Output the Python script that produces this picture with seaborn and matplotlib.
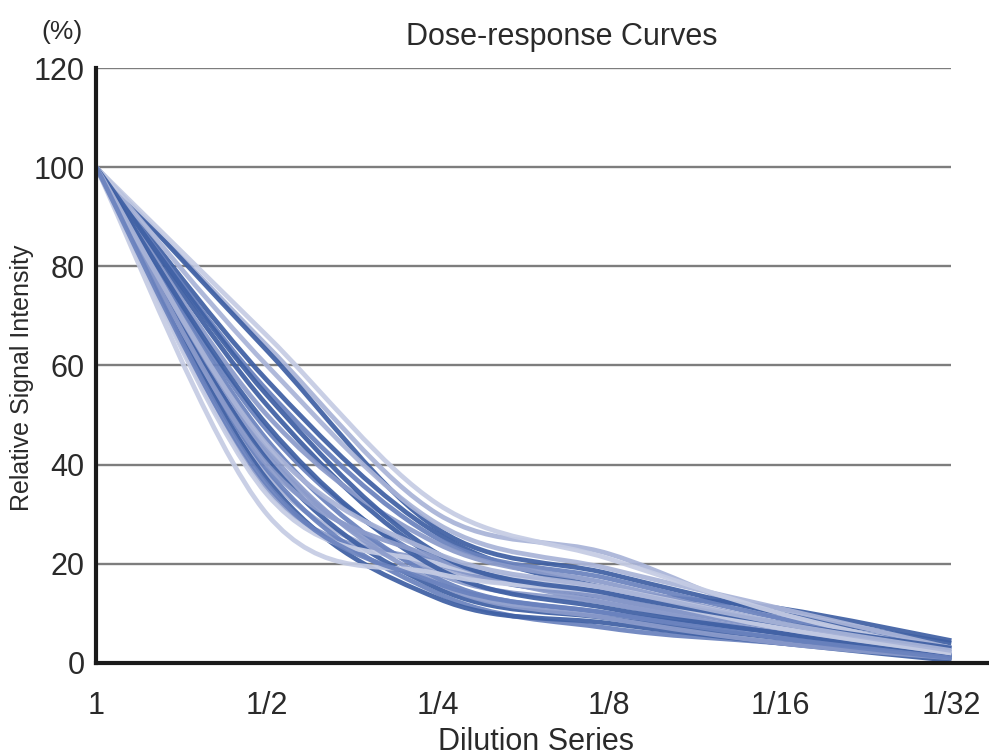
import matplotlib
matplotlib.use("Agg")
import matplotlib.pyplot as plt
from matplotlib.path import Path
from matplotlib.patches import PathPatch
import seaborn as sns
import pandas as pd

# ---- data -------------------------------------------------------------
dilution_labels = ["1", "1/2", "1/4", "1/8", "1/16", "1/32"]
y_ticks = [0, 20, 40, 60, 80, 100, 120]

# relative signal intensity (%) per curve at each dilution step
curve_values = [
    [100, 66, 32, 21, 10, 2],
    [100, 64, 30, 22, 9, 3],
    [100, 63, 27, 18, 10, 4],
    [100, 60, 28, 19, 11, 3],
    [100, 57, 26, 15, 11, 4.5],
    [100, 55, 25, 17, 9, 3],
    [100, 54, 22, 14, 8, 3],
    [100, 52, 21, 13, 7, 2],
    [100, 50, 24, 16, 8, 2],
    [100, 48, 19, 11, 6, 1.5],
    [100, 47, 20, 14, 7, 2],
    [100, 45, 17, 10, 6, 1],
    [100, 44, 22, 15, 8, 2.5],
    [100, 42, 18, 12, 6, 1.5],
    [100, 41, 15, 9, 5, 1],
    [100, 40, 21, 13, 7, 2],
    [100, 38, 19, 14, 7, 2],
    [100, 37, 13, 8, 4, 0.5],
    [100, 36, 16, 10, 5, 1],
    [100, 35, 20, 12, 6, 1.5],
    [100, 34, 20, 15, 8, 2],
    [100, 30, 18, 14, 7, 2],
    [100, 39, 14, 7, 4, 1],
    [100, 43, 16, 9, 4, 1],
]
# shade index per curve: 0 = darkest blue ... 4 = palest lavender
curve_shades = [4, 3, 0, 3, 0, 1, 0, 0, 2, 0, 1, 1, 3, 2, 0, 2, 3, 0, 1, 2, 4, 4, 1, 2]

# ---- styling ----------------------------------------------------------
sns.set_style("white")
plt.rcParams["font.family"] = ["Liberation Sans", "DejaVu Sans"]
text_color = "#2a2a2a"
palette = sns.blend_palette(["#3f60a4", "#6a82be", "#8b9bcb", "#a9b4d8", "#c5cce4"], 5)

rows = []
for ci, vals in enumerate(curve_values):
    for xi, v in enumerate(vals):
        rows.append({"curve": ci, "step": xi, "value": v})
df = pd.DataFrame(rows)

fig = plt.figure(figsize=(9.89, 7.55), dpi=100)
ax = fig.add_axes([0.097, 0.1219, 0.903, 0.788])


def smooth_path(xs, ys):
    """Excel-style smoothed line: cubic Bezier segments through the points."""
    pts = list(zip(xs, ys))
    n = len(pts)
    verts = [pts[0]]
    codes = [Path.MOVETO]
    for i in range(n - 1):
        p0 = pts[i - 1] if i > 0 else pts[i]
        p1 = pts[i]
        p2 = pts[i + 1]
        p3 = pts[i + 2] if i + 2 < n else pts[i + 1]
        c1 = (p1[0] + (p2[0] - p0[0]) / 6.0, p1[1] + (p2[1] - p0[1]) / 6.0)
        c2 = (p2[0] - (p3[0] - p1[0]) / 6.0, p2[1] - (p3[1] - p1[1]) / 6.0)
        verts += [c1, c2, p2]
        codes += [Path.CURVE4] * 3
    return Path(verts, codes)


# gridlines (span only the category range)
n_steps = len(dilution_labels)
ax.hlines(y_ticks[1:], 0, n_steps - 1, colors="#7d7d7d", linewidth=1.7, zorder=1)

zorders = [5, 2, 3, 4, 2, 3]
for ci, grp in df.groupby("curve"):
    shade = curve_shades[ci]
    path = smooth_path(grp["step"].to_numpy(float), grp["value"].to_numpy(float))
    patch = PathPatch(path, facecolor="none", edgecolor=palette[shade],
                      linewidth=3.4, alpha=0.93, capstyle="butt", joinstyle="round",
                      zorder=zorders[ci % len(zorders)])
    ax.add_patch(patch)

ax.set_xlim(0, 5.22)
ax.set_ylim(0, 120)
ax.set_xticks(range(n_steps))
ax.set_xticklabels(dilution_labels)
ax.set_yticks(y_ticks)
ax.set_yticklabels([str(t) for t in y_ticks])

for s in ["top", "right"]:
    ax.spines[s].set_visible(False)
for s in ["left", "bottom"]:
    ax.spines[s].set_color("#1a1a1a")
    ax.spines[s].set_linewidth(3.0)
    ax.spines[s].set_zorder(6)

ax.tick_params(axis="y", direction="out", length=5, width=1.5, color="#5a5a5a",
               labelsize=22, labelcolor=text_color, pad=3)
ax.tick_params(axis="x", direction="out", length=4, width=1.2, color="#8a8a8a",
               labelsize=22, labelcolor=text_color, pad=16)

fig.text(0.568, 0.9404, "Dose-response Curves", fontsize=22, color=text_color,
         ha="center", va="baseline")
fig.text(0.0627, 0.948, "(%)", fontsize=19, color=text_color, ha="center", va="baseline")
fig.text(0.022, 0.5, "Relative Signal Intensity", fontsize=18, color=text_color,
         rotation=90, ha="center", va="center")
fig.text(0.542, 0.007, "Dilution Series", fontsize=22, color=text_color,
         ha="center", va="baseline")

fig.savefig("out.png", dpi=100)
